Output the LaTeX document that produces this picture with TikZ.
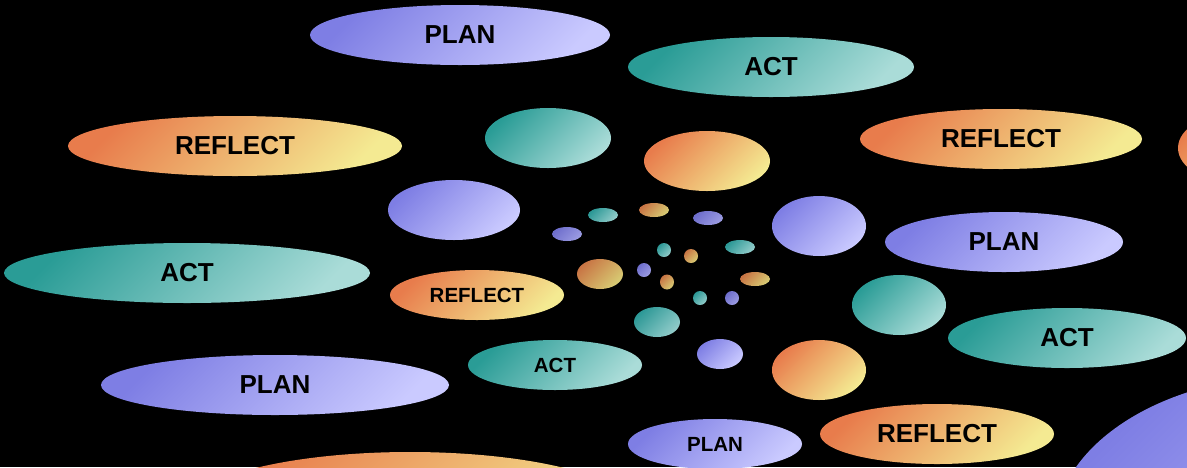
\documentclass[tikz,border=0pt]{standalone}
\usepackage{fontspec}
\setmainfont{Liberation Sans}
\usetikzlibrary{shapes.geometric}
\definecolor{planA}{HTML}{7E7EE4}
\definecolor{planB}{HTML}{CACAFF}
\definecolor{actA}{HTML}{2A9C96}
\definecolor{actB}{HTML}{AADCD8}
\definecolor{refA}{HTML}{E87C4C}
\definecolor{refB}{HTML}{F4EA92}
\definecolor{planC}{HTML}{6E6ECC}
\definecolor{planD}{HTML}{9C9CE2}
\definecolor{actC}{HTML}{2C9896}
\definecolor{actD}{HTML}{92CCCA}
\definecolor{refC}{HTML}{C87444}
\definecolor{refD}{HTML}{D8CC74}
\tikzset{
  blob/.style={ellipse, inner sep=0pt, outer sep=0pt, text=black, font=\bfseries\fontsize{26}{30}\selectfont},
  plan/.style={blob, top color=planA, bottom color=planB, shading angle=45},
  act/.style={blob, top color=actA, bottom color=actB, shading angle=45},
  refl/.style={blob, top color=refA, bottom color=refB, shading angle=45},
  splan/.style={blob, top color=planC, bottom color=planD, shading angle=45},
  sact/.style={blob, top color=actC, bottom color=actD, shading angle=45},
  srefl/.style={blob, top color=refC, bottom color=refD, shading angle=45},
  small/.style={font=\bfseries\fontsize{20.5}{24}\selectfont},
}
\begin{document}
\begin{tikzpicture}[x=1pt,y=-1pt]
\fill[black] (0,0) rectangle (1187,467);
\useasboundingbox (0,0) rectangle (1187,467);
\clip (0,0) rectangle (1187,467);
% large labelled ellipses
\node[plan, minimum width=300pt, minimum height=60pt] (plantop) at (460,35) {PLAN};
\node[act, minimum width=286pt, minimum height=60pt] (acttop) at (771,67) {ACT};
\node[refl, minimum width=334pt, minimum height=60pt] (refleft) at (235,146) {REFLECT};
\node[refl, minimum width=282pt, minimum height=60pt] (refright) at (1001,139) {REFLECT};
\node[refl, minimum width=124pt, minimum height=72pt] (refedge) at (1240,148) {};
\node[plan, minimum width=238pt, minimum height=60pt] (planright) at (1004,242) {PLAN};
\node[act, minimum width=366pt, minimum height=60pt] (actleft) at (187,273) {ACT};
\node[refl, small, minimum width=174pt, minimum height=50pt] (refmid) at (477,295) {REFLECT};
\node[act, minimum width=238pt, minimum height=60pt] (actright) at (1067,338) {ACT};
\node[act, small, minimum width=174pt, minimum height=50pt] (actmid) at (555,365) {ACT};
\node[plan, minimum width=348pt, minimum height=60pt] (planleft) at (275,385) {PLAN};
\node[plan, small, minimum width=174pt, minimum height=50pt] (planbot) at (715,444) {PLAN};
\node[refl, minimum width=234pt, minimum height=60pt] (refbot) at (937,434) {REFLECT};
\node[plan, minimum width=490pt, minimum height=310pt] (planbig) at (1300,530) {};
\node[refl, minimum width=454pt, minimum height=120pt] (refbig) at (410,512) {};
% unlabelled medium ellipses
\node[act, minimum width=126pt, minimum height=60pt] (m1) at (548,138) {};
\node[refl, minimum width=126pt, minimum height=60pt] (m2) at (707,161) {};
\node[plan, minimum width=132pt, minimum height=60pt] (m3) at (454,210) {};
\node[plan, minimum width=94pt, minimum height=60pt] (m4) at (819,226) {};
\node[act, minimum width=94pt, minimum height=60pt] (m5) at (899,305) {};
\node[plan, minimum width=46pt, minimum height=30pt] (m6) at (720,354) {};
\node[refl, minimum width=94pt, minimum height=60pt] (m7) at (819,370) {};
% small ellipses
\node[sact, minimum width=30pt, minimum height=14pt] (s1) at (603,215) {};
\node[srefl, minimum width=30pt, minimum height=14pt] (s2) at (654,210) {};
\node[splan, minimum width=30pt, minimum height=14pt] (s3) at (708,218) {};
\node[splan, minimum width=30pt, minimum height=14pt] (s4) at (567,234) {};
\node[sact, minimum width=30pt, minimum height=14pt] (s5) at (740,247) {};
\node[sact, minimum width=14pt, minimum height=14pt] (s6) at (664,250) {};
\node[srefl, minimum width=14pt, minimum height=14pt] (s7) at (691,256) {};
\node[srefl, minimum width=46pt, minimum height=30pt] (s8) at (600,274) {};
\node[splan, minimum width=14pt, minimum height=14pt] (s9) at (644,270) {};
\node[srefl, minimum width=14pt, minimum height=15pt] (s10) at (667,282) {};
\node[srefl, minimum width=30pt, minimum height=14pt] (s11) at (755,279) {};
\node[sact, minimum width=14pt, minimum height=14pt] (s12) at (700,298) {};
\node[splan, minimum width=14pt, minimum height=14pt] (s13) at (732,298) {};
\node[sact, minimum width=46pt, minimum height=30pt] (s14) at (657,322) {};
\end{tikzpicture}
\end{document}
